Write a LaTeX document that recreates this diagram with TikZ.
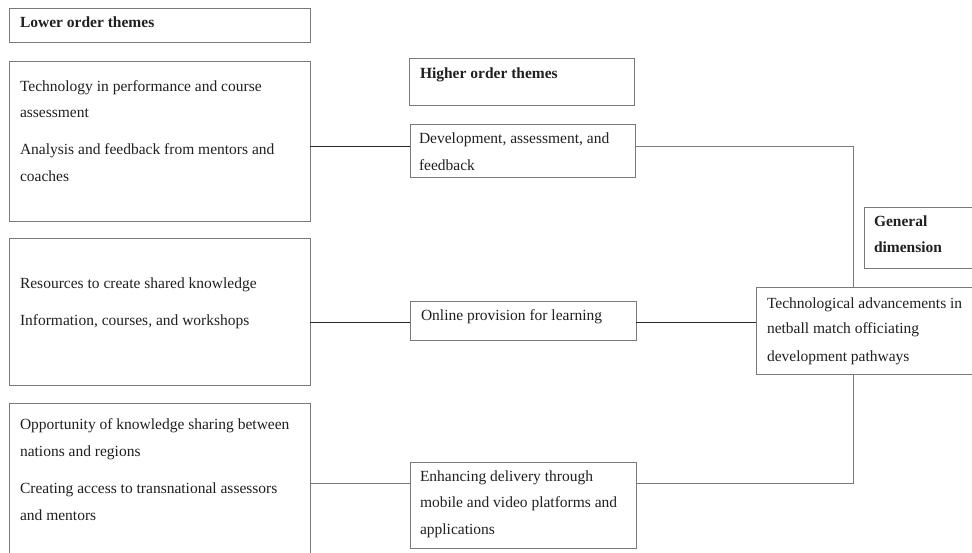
\documentclass[tikz,border=0pt]{standalone}
\usepackage{fontspec}
\setmainfont{Liberation Serif}
\begin{document}
\begin{tikzpicture}[x=1pt,y=-1pt,
  box/.style={draw=boxgray, line width=0.9pt, inner sep=0pt, outer sep=0pt, anchor=north west},
  txt/.style={anchor=base west, inner sep=0pt, outer sep=0pt, text=textcol, font=\fontsize{15.5}{18}\selectfont},
  btxt/.style={txt, font=\fontsize{15.5}{18}\selectfont\bfseries},
  link/.style={draw=linecol, line width=0.9pt},
  glink/.style={draw=boxgray, line width=0.9pt}]
\definecolor{boxgray}{HTML}{7A7A7A}
\definecolor{linecol}{HTML}{2A2A2A}
\definecolor{textcol}{HTML}{231F20}
\clip (0,0) rectangle (972,552);
\useasboundingbox (0,0) rectangle (972,552);
\fill[white] (0,0) rectangle (972,552);

% lower order themes
\node[box, minimum width=301pt, minimum height=34pt] (lot) at (9,8) {};
\node[btxt] (lott) at (20,27.5) {Lower order themes};

\node[box, minimum width=301pt, minimum height=160pt] (l1) at (9,61) {};
\node[txt] (l1a) at (20,91.2) {Technology in performance and course};
\node[txt] (l1b) at (20,117.8) {assessment};
\node[txt] (l1c) at (20,154.5) {Analysis and feedback from mentors and};
\node[txt] (l1d) at (20,181.2) {coaches};

\node[box, minimum width=301pt, minimum height=147pt] (l2) at (9,238) {};
\node[txt] (l2a) at (20,288.5) {Resources to create shared knowledge};
\node[txt] (l2b) at (20,325.5) {Information, courses, and workshops};

\node[box, minimum width=301pt, minimum height=170pt] (l3) at (9,403) {};
\node[txt] (l3a) at (20,429.5) {Opportunity of knowledge sharing between};
\node[txt] (l3b) at (20,456.2) {nations and regions};
\node[txt] (l3c) at (20,493.5) {Creating access to transnational assessors};
\node[txt] (l3d) at (20,520.5) {and mentors};

% higher order themes
\node[box, minimum width=225pt, minimum height=47pt] (hot) at (409,58) {};
\node[btxt] (hott) at (420,78.5) {Higher order themes};

\node[box, minimum width=225pt, minimum height=53pt] (h1) at (410,124) {};
\node[txt] (h1a) at (419,143.5) {Development, assessment, and};
\node[txt] (h1b) at (419,170.5) {feedback};

\node[box, minimum width=226pt, minimum height=39pt] (h2) at (410,301) {};
\node[txt] (h2a) at (421,320.5) {Online provision for learning};

\node[box, minimum width=226pt, minimum height=86pt] (h3) at (410,462) {};
\node[txt] (h3a) at (420,481.2) {Enhancing delivery through};
\node[txt] (h3b) at (420,507.2) {mobile and video platforms and};
\node[txt] (h3c) at (420,534.5) {applications};

% general dimension
\node[box, minimum width=120pt, minimum height=61pt] (gd) at (864,207) {};
\node[btxt] (gda) at (874,226.2) {General};
\node[btxt] (gdb) at (874,252.2) {dimension};

\node[box, minimum width=230pt, minimum height=87pt] (tech) at (756,287) {};
\node[txt] (techa) at (767,308.7) {Technological advancements in};
\node[txt] (techb) at (767,333.5) {netball match officiating};
\node[txt] (techc) at (767,361.2) {development pathways};

% connector heights
\coordinate (y1) at (0,146);
\coordinate (y2) at (0,322);
\coordinate (y3) at (0,483);
\coordinate (xv) at (853.8,0);

\draw[link] (l1.east |- y1) -- (h1.west |- y1);
\draw[link] (l2.east |- y2) -- (h2.west |- y2);
\draw[glink] (l3.east |- y3) -- (h3.west |- y3);

\draw[glink] (h1.east |- y1) -- (xv |- y1) -- (xv |- tech.north);
\draw[link] (h2.east |- y2) -- (tech.west |- y2);
\draw[glink] (h3.east |- y3) -- (xv |- y3) -- (xv |- tech.south);
\end{tikzpicture}
\end{document}
